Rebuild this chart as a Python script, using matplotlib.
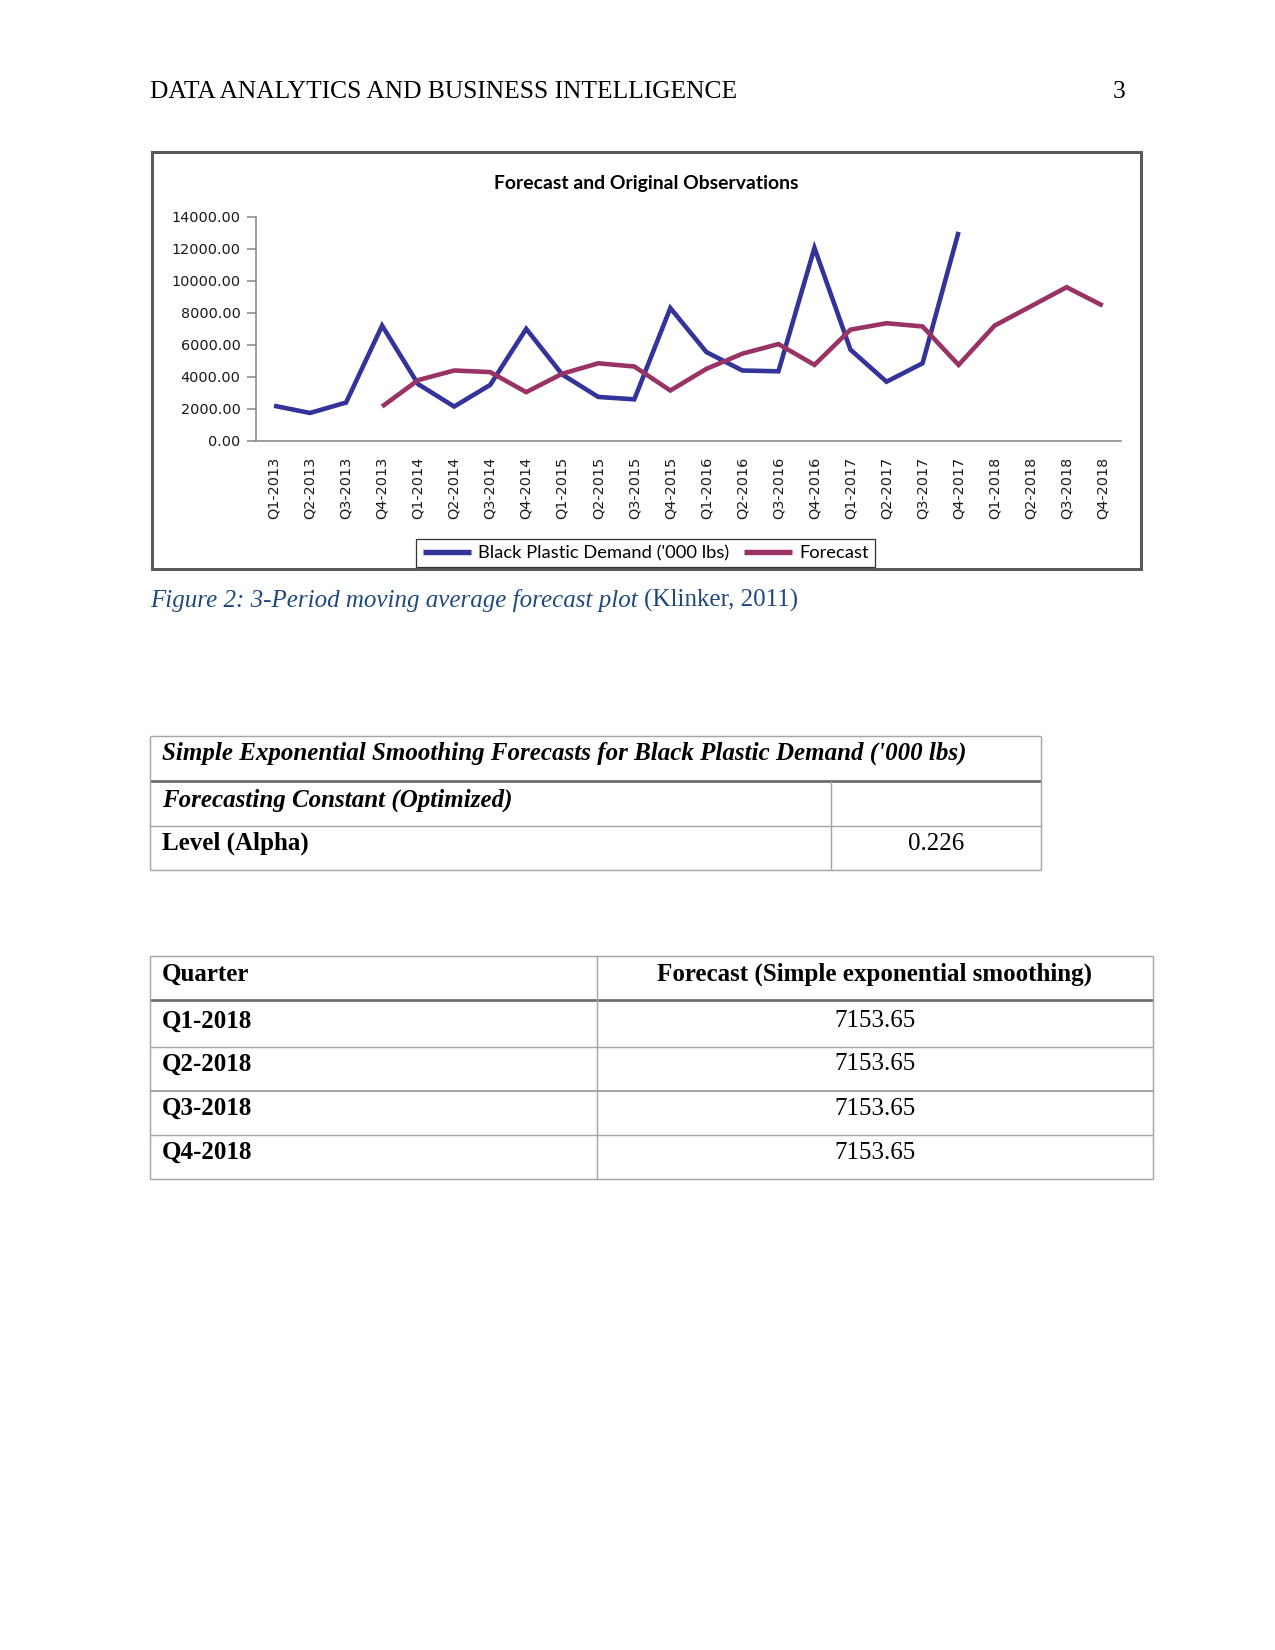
import numpy as np
import matplotlib
matplotlib.use('Agg')
import matplotlib.pyplot as plt
from matplotlib.lines import Line2D
from matplotlib.patches import Rectangle

nan = np.nan

# ---------------- data ----------------
quarters = ["Q1-2013", "Q2-2013", "Q3-2013", "Q4-2013",
            "Q1-2014", "Q2-2014", "Q3-2014", "Q4-2014",
            "Q1-2015", "Q2-2015", "Q3-2015", "Q4-2015",
            "Q1-2016", "Q2-2016", "Q3-2016", "Q4-2016",
            "Q1-2017", "Q2-2017", "Q3-2017", "Q4-2017",
            "Q1-2018", "Q2-2018", "Q3-2018", "Q4-2018"]
demand = [2200, 1750, 2400, 7200, 3550, 2150, 3500, 7000,
          4150, 2750, 2600, 8300, 5550, 4400, 4350, 12050,
          5700, 3700, 4850, 13050, nan, nan, nan, nan]
forecast = [nan, nan, nan, 2150, 3800, 4400, 4300, 3050,
            4200, 4850, 4650, 3150, 4500, 5450, 6050, 4750,
            6950, 7350, 7150, 4750, 7200, 8400, 9600, 8450]
y_ticks = [0, 2000, 4000, 6000, 8000, 10000, 12000, 14000]
series_names = ["Black Plastic Demand ('000 lbs)", "Forecast"]
chart_title = "Forecast and Original Observations"

page_header = "DATA ANALYTICS AND BUSINESS INTELLIGENCE"
page_number = "3"
caption_italic = "Figure 2: 3-Period moving average forecast plot"
caption_plain = "(Klinker, 2011)"

table1_title = "Simple Exponential Smoothing Forecasts for Black Plastic Demand ('000 lbs)"
table1_sub = "Forecasting Constant (Optimized)"
table1_param = "Level (Alpha)"
alpha_value = 0.226

table2_headers = ["Quarter", "Forecast (Simple exponential smoothing)"]
table2_quarters = ["Q1-2018", "Q2-2018", "Q3-2018", "Q4-2018"]
table2_values = [7153.65, 7153.65, 7153.65, 7153.65]

# ---------------- figure ----------------
W, H = 1275, 1650
fig = plt.figure(figsize=(8.5, 11), dpi=150)
fig.patch.set_facecolor('white')


def fx(px):
    return px / W


def fy(py):
    return 1 - py / H


SERIF = ['Liberation Serif', 'DejaVu Serif']
SANS = ['Lato', 'DejaVu Sans']

# page header
fig.text(fx(150), fy(98.5), page_header, family=SERIF, fontsize=12.25,
         va='baseline', ha='left', color='black')
fig.text(fx(1125), fy(98.5), page_number, family=SERIF, fontsize=12.25,
         va='baseline', ha='right', color='black')

# chart frame
frame = Rectangle((fx(151.5), fy(568.5)), fx(1141) - fx(151.5), fy(151.5) - fy(568.5),
                  transform=fig.transFigure, facecolor='white', edgecolor='#5a5a5a',
                  linewidth=1.45, zorder=0)
fig.add_artist(frame)

# axes
ax_l, ax_r, ax_t, ax_b = 256, 1120.7, 216.7, 441
ax = fig.add_axes([fx(ax_l), fy(ax_b), fx(ax_r) - fx(ax_l), fy(ax_t) - fy(ax_b)])
ax.set_facecolor('none')
x = np.arange(len(quarters))
l1, = ax.plot(x, demand, color='#333399', linewidth=2.2, solid_joinstyle='miter',
              solid_capstyle='butt', label=series_names[0])
l2, = ax.plot(x, forecast, color='#993366', linewidth=2.2, solid_joinstyle='miter',
              solid_capstyle='butt', label=series_names[1])
ax.set_xlim(-0.5, len(quarters) - 0.5)
ax.set_ylim(0, 14000)
ax.set_yticks(y_ticks)
ax.set_yticklabels([f"{v:.2f}" for v in y_ticks], family='DejaVu Sans', fontsize=6.9,
                   color='#1a1a1a')
ax.set_xticks(x)
ax.set_xticklabels(quarters, rotation=90, family='DejaVu Sans', fontsize=6.9,
                   color='#1a1a1a', va='top', ha='center')
for s in ['top', 'right']:
    ax.spines[s].set_visible(False)
for s in ['left', 'bottom']:
    ax.spines[s].set_color('#868686')
    ax.spines[s].set_linewidth(0.75)
ax.tick_params(axis='y', direction='out', length=4.4, width=0.75, color='#868686', pad=3.0)
ax.tick_params(axis='x', length=0, pad=7.5)

# chart title
fig.text(fx(646), fy(189.3), chart_title, family=SANS, fontweight='bold', fontsize=9.3,
         ha='center', va='baseline', color='black')

# legend
leg = fig.legend(handles=[l1, l2], loc='center', bbox_to_anchor=(fx(645.8), fy(553.2)),
                 bbox_transform=fig.transFigure, ncol=2, frameon=True, fancybox=False,
                 prop={'family': SANS, 'size': 8.85}, handlelength=2.6, handletextpad=0.38,
                 columnspacing=0.85, borderpad=0.33, borderaxespad=0)
leg.get_frame().set_edgecolor('black')
leg.get_frame().set_linewidth(0.6)
for h in leg.legend_handles:
    h.set_linewidth(2.6)

# caption
cap_color = '#1F497D'
t1 = fig.text(fx(150), fy(607), caption_italic, family=SERIF, style='italic', fontsize=12,
              ha='left', va='baseline', color=cap_color)
fig.canvas.draw()
bb = t1.get_window_extent(renderer=fig.canvas.get_renderer())
fig.text((bb.x1 + 6) / W, fy(607), caption_plain, family=SERIF, fontsize=12,
         ha='left', va='baseline', color=cap_color)

# ---------------- tables ----------------
GRID = '#a6a6a6'
THICK = '#6b6b6b'


def hline(x0, x1, y, color=GRID, lw=0.7):
    fig.add_artist(Line2D([fx(x0), fx(x1)], [fy(y), fy(y)], transform=fig.transFigure,
                          color=color, linewidth=lw, solid_capstyle='butt'))


def vline(x0, y0, y1, color=GRID, lw=0.7):
    fig.add_artist(Line2D([fx(x0), fx(x0)], [fy(y0), fy(y1)], transform=fig.transFigure,
                          color=color, linewidth=lw, solid_capstyle='butt'))


# table 1
t1_l, t1_r, t1_div = 150.4, 1040.5, 831
t1_rows = [736.4, 780.6, 825.8, 870.0]
hline(t1_l, t1_r, t1_rows[0])
hline(t1_l, t1_r, t1_rows[1], color=THICK, lw=1.3)
hline(t1_l, t1_r, t1_rows[2])
hline(t1_l, t1_r, t1_rows[3])
vline(t1_l, t1_rows[0], t1_rows[3])
vline(t1_r, t1_rows[0], t1_rows[3])
vline(t1_div, t1_rows[1], t1_rows[3])
fig.text(fx(162), fy(760), table1_title, family=SERIF, fontsize=12, fontweight='bold',
         style='italic', va='baseline', ha='left')
fig.text(fx(162), fy(806.5), table1_sub, family=SERIF, fontsize=12, fontweight='bold',
         style='italic', va='baseline', ha='left')
fig.text(fx(162), fy(849.8), table1_param, family=SERIF, fontsize=12, fontweight='bold',
         va='baseline', ha='left')
fig.text(fx((t1_div + t1_r) / 2), fy(849.8), f"{alpha_value:.3f}", family=SERIF, fontsize=12,
         va='baseline', ha='center')

# table 2
t2_l, t2_r, t2_div = 150.4, 1153.0, 596.5
t2_rows = [956.3, 1000.5, 1046.7, 1091.0, 1135.0, 1179.3]
for i, yy in enumerate(t2_rows):
    if i == 1:
        hline(t2_l, t2_r, yy, color=THICK, lw=1.3)
    elif i == 3:
        hline(t2_l, t2_r, yy, lw=1.0)
    else:
        hline(t2_l, t2_r, yy)
vline(t2_l, t2_rows[0], t2_rows[-1])
vline(t2_r, t2_rows[0], t2_rows[-1])
vline(t2_div, t2_rows[0], t2_rows[-1])
c2 = (t2_div + t2_r) / 2
fig.text(fx(162), fy(981), table2_headers[0], family=SERIF, fontsize=12, fontweight='bold',
         va='baseline', ha='left')
fig.text(fx(c2), fy(981), table2_headers[1], family=SERIF, fontsize=12, fontweight='bold',
         va='baseline', ha='center')
row_baselines = [1027.4, 1070.5, 1114.7, 1158.9]
for q, v, yb in zip(table2_quarters, table2_values, row_baselines):
    fig.text(fx(162), fy(yb), q, family=SERIF, fontsize=12, fontweight='bold',
             va='baseline', ha='left')
    fig.text(fx(c2), fy(yb), f"{v:.2f}", family=SERIF, fontsize=12,
             va='baseline', ha='center')

fig.savefig('out.png', dpi=150, facecolor='white')
